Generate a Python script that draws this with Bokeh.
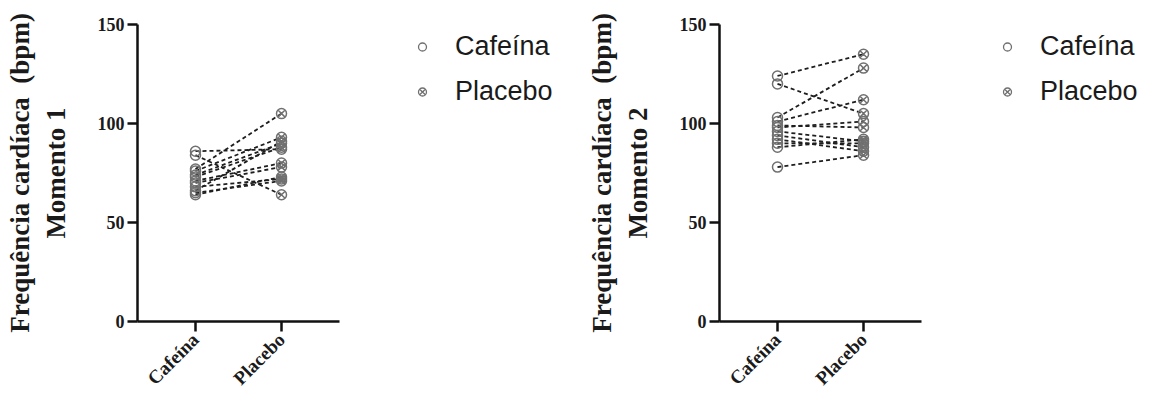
import math
from bokeh.plotting import figure
from bokeh.models import Range1d, FixedTicker, Legend, LegendItem, ColumnDataSource
from bokeh.layouts import row
from bokeh.embed import file_html
from bokeh.resources import INLINE

# ---- data ----
groups = ["Cafeína", "Placebo"]
y_ticks = [0, 50, 100, 150]

m1_cafeina = [86, 84, 77, 76, 74, 73, 71, 70, 68, 66, 65, 64]
m1_placebo = [87, 64, 105, 93, 90, 88, 80, 78, 72, 91, 71, 73]

m2_cafeina = [124, 120, 103, 101, 99, 98, 96, 94, 92, 90, 88, 78]
m2_placebo = [135, 105, 128, 112, 98, 101, 91, 88, 86, 90, 92, 84]

titles = ["Frequência cardíaca\u00a0 (bpm)\nMomento 1", "Frequência cardíaca\u00a0 (bpm)\nMomento 2"]

SERIF = "Liberation Serif"
SANS = "Liberation Sans"
GRAY = "#707070"
H = 400
TOP = 24
FRAME_H = 297


def make_panel(caf, plac, label):
    p = figure(width=137 + 202 + 10, height=H, output_backend="svg", toolbar_location=None,
               x_range=Range1d(-0.674, 1.674), y_range=Range1d(0, 150),
               min_border_left=137, min_border_right=10,
               min_border_top=TOP, min_border_bottom=H - TOP - FRAME_H)
    p.outline_line_color = None
    p.grid.visible = False

    xi = [groups.index("Cafeína"), groups.index("Placebo")]
    xs = [xi for _ in caf]
    ys = [[a, b] for a, b in zip(caf, plac)]
    p.multi_line(xs=xs, ys=ys, line_color="#1e1e1e", line_width=1.8, line_dash="4 3")

    src_c = ColumnDataSource(dict(x=[xi[0]] * len(caf), y=caf))
    src_p = ColumnDataSource(dict(x=[xi[1]] * len(plac), y=plac))
    p.scatter("x", "y", source=src_c, marker="circle", size=10, fill_color=None,
              line_color=GRAY, line_width=1.5)
    p.scatter("x", "y", source=src_p, marker="circle_x", size=10, fill_color=None,
              line_color=GRAY, line_width=1.5)

    p.xaxis.ticker = FixedTicker(ticks=[0, 1])
    p.xaxis.major_label_overrides = {0: groups[0], 1: groups[1]}
    p.xaxis.major_label_orientation = math.pi / 4
    p.yaxis.ticker = FixedTicker(ticks=y_ticks)
    for ax in (p.xaxis, p.yaxis):
        ax.axis_line_width = 2.5
        ax.axis_line_color = "#111111"
        ax.major_tick_line_width = 2.5
        ax.major_tick_line_color = "#111111"
        ax.major_tick_out = 10
        ax.major_tick_in = 0
        ax.minor_tick_out = 0
        ax.minor_tick_in = 0
        ax.major_label_text_font = SERIF
        ax.major_label_text_font_style = "bold"
        ax.major_label_text_color = "#1a1a1a"
        ax.major_label_standoff = 3
    p.xaxis.major_label_standoff = 5
    p.yaxis.major_label_text_font_size = "18px"
    p.xaxis.major_label_text_font_size = "19px"
    p.yaxis.axis_label = label
    p.yaxis.axis_label_text_font = SERIF
    p.yaxis.axis_label_text_font_style = "bold"
    p.yaxis.axis_label_text_font_size = "27px"
    p.yaxis.axis_label_text_color = "#1a1a1a"
    p.yaxis.axis_label_standoff = 24
    return p


def make_legend(width, xoff):
    f = figure(width=width, height=H, output_backend="svg", toolbar_location=None,
               x_range=Range1d(0, 1), y_range=Range1d(0, 1),
               min_border_left=xoff, min_border_right=0, min_border_top=TOP, min_border_bottom=0)
    f.axis.visible = False
    f.grid.visible = False
    f.outline_line_color = None
    nan = float("nan")
    lc = f.scatter(x=[nan], y=[nan], marker="circle", size=8, fill_color=None,
                   line_color=GRAY, line_width=1.3)
    lp = f.scatter(x=[nan], y=[nan], marker="circle_x", size=8, fill_color=None,
                   line_color=GRAY, line_width=1.3)
    leg = Legend(items=[LegendItem(label=groups[0], renderers=[lc]),
                        LegendItem(label=groups[1], renderers=[lp])],
                 location="top_left", margin=0, padding=0, spacing=0,
                 glyph_width=20, glyph_height=45, label_height=45,
                 label_standoff=23, label_text_font=SANS,
                 label_text_font_size="27px", label_text_color="#1a1a1a",
                 border_line_color=None, background_fill_alpha=0)
    f.add_layout(leg, "center")
    return f


p1 = make_panel(m1_cafeina, m1_placebo, titles[0])
l1 = make_legend(582 - 349, 63)
p2 = make_panel(m2_cafeina, m2_placebo, titles[1])
l2 = make_legend(215, 66)

layout = row(p1, l1, p2, l2)
open("out.html", "w").write(file_html(layout, INLINE))
